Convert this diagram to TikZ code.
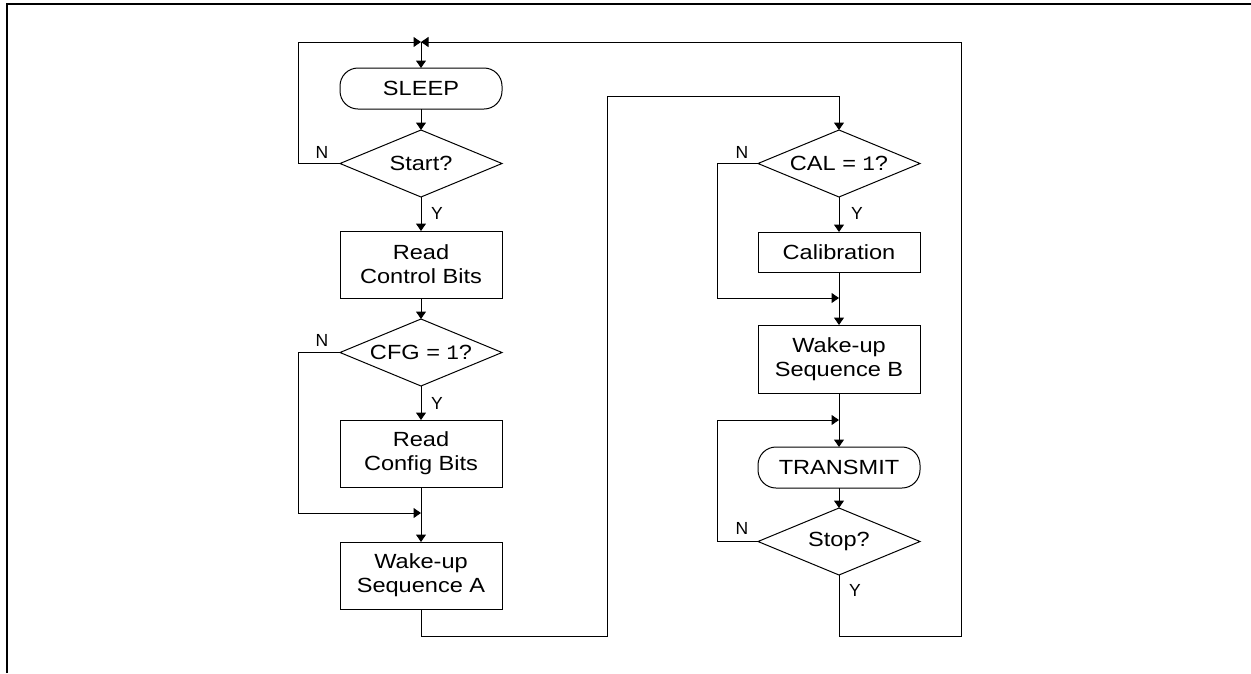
\documentclass[tikz,border=0pt]{standalone}
\usepackage{fontspec}
\setmainfont{Liberation Sans}[FakeStretch=1.15]
\newfontfamily\lblfont{Liberation Sans}
\newfontfamily\monof{Liberation Mono}
\usetikzlibrary{shapes.geometric,arrows.meta}
\tikzset{
  every node/.style={font=\fontsize{20.5}{24}\selectfont, align=center, inner sep=0pt, outer sep=0pt},
  line/.style={line width=1pt},
  arr/.style={line, -{Triangle[length=7.5pt,width=10pt]}},
  procbox/.style={draw, line width=1pt, minimum width=162pt},
  termbox/.style={draw, line width=1pt, minimum width=162pt, minimum height=41pt, rounded corners=18pt},
  decis/.style={draw, line width=1pt, diamond, aspect=2.42, minimum width=162pt, minimum height=67pt},
  lbl/.style={font=\lblfont\fontsize{17.5}{20}\selectfont}
}
\begin{document}
\begin{tikzpicture}[x=1pt,y=-1pt]
\useasboundingbox (0,0) rectangle (1251,673);
% frame
\draw[line width=2.2pt] (7,673) -- (7,4) -- (1251,4);
% left column
\node[termbox] (sleep) at (421,88.5) {SLEEP};
\node[decis] (start) at (421,163.5) {Start?};
\node[procbox, minimum height=67pt] (rcb) at (421,264.5) {Read\\Control Bits};
\node[decis] (cfg) at (421,352.5) {CFG = {\monof 1}?};
\node[procbox, minimum height=67pt] (rcfg) at (421,453.5) {Read\\Config Bits};
\node[procbox, minimum height=67pt] (wua) at (421,575.5) {Wake-up\\Sequence A};
% right column
\node[decis] (cal) at (839,163.5) {CAL = {\monof 1}?};
\node[procbox, minimum height=40pt] (calib) at (839,252) {Calibration};
\node[procbox, minimum height=68pt] (wub) at (839,359) {Wake-up\\Sequence B};
\node[termbox] (tx) at (839,467.5) {TRANSMIT};
\node[decis] (stop) at (839,541.5) {Stop?};
% junction coordinates
\coordinate (j0) at (421,42);
\coordinate (m1) at (421,513);
\coordinate (m2) at (839,298);
\coordinate (m3) at (839,420);
% connectors
\draw[arr] (j0) -- (sleep.north);
\draw[arr] (sleep.south) -- (start.north);
\draw[arr] (start.south) -- (rcb.north);
\draw[arr] (rcb.south) -- (cfg.north);
\draw[arr] (cfg.south) -- (rcfg.north);
\draw[arr] (rcfg.south) -- (wua.north);
\draw[arr] (start.west) -- (298,163.5) -- (298,42) -- (j0);
\draw[arr] (cfg.west) -- (298,352.5) -- (298,513) -- (m1);
\draw[arr] (wua.south) -- (421,636) -- (607,636) -- (607,96) -- (839,96) -- (cal.north);
\draw[arr] (cal.south) -- (calib.north);
\draw[arr] (calib.south) -- (wub.north);
\draw[arr] (cal.west) -- (717,163.5) -- (717,298) -- (m2);
\draw[arr] (wub.south) -- (tx.north);
\draw[arr] (tx.south) -- (stop.north);
\draw[arr] (stop.west) -- (717,541.5) -- (717,420) -- (m3);
\draw[arr] (stop.south) -- (839,636) -- (961,636) -- (961,42) -- (j0);
% labels
\node[lbl] (n1) at (322,152) {N};
\node[lbl] (y1) at (437,213) {Y};
\node[lbl] (n2) at (322,340) {N};
\node[lbl] (y2) at (437,403) {Y};
\node[lbl] (n3) at (742,152) {N};
\node[lbl] (y3) at (857,213) {Y};
\node[lbl] (n4) at (742,528) {N};
\node[lbl] (y4) at (855,590) {Y};
\end{tikzpicture}
\end{document}
